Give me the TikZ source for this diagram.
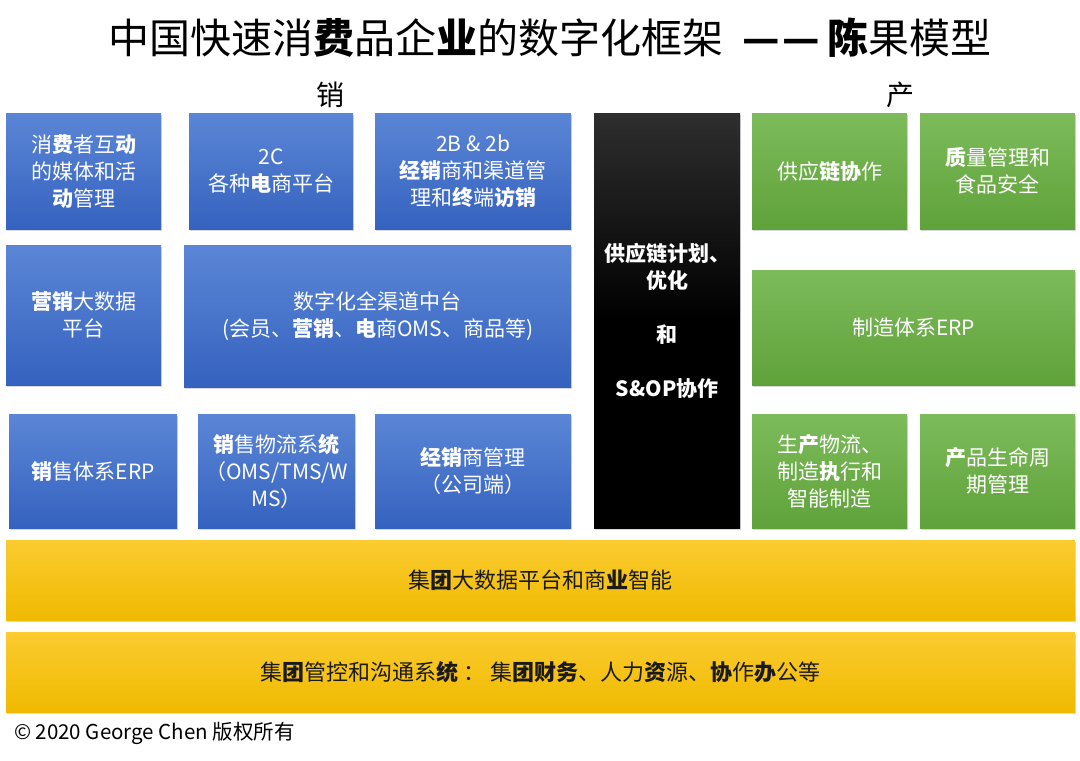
\documentclass[tikz,border=0pt]{standalone}
\usepackage{fontspec}
\setmainfont{Noto Sans CJK SC}
\usetikzlibrary{shadows}
\definecolor{bluetop}{HTML}{5B86D6}
\definecolor{bluebot}{HTML}{3562BF}
\definecolor{greentop}{HTML}{7DBB5B}
\definecolor{greenbot}{HTML}{5FA23A}
\definecolor{yeltop}{HTML}{FBCB30}
\definecolor{yelbot}{HTML}{F0BA00}
\definecolor{blacktop}{HTML}{2E2E2E}
\definecolor{txtdark}{HTML}{1A1A1A}
\tikzset{
  x=1pt, y=-1pt,
  card/.style={anchor=north west, inner sep=2pt, align=center, text=white,
    font=\fontsize{21pt}{27pt}\selectfont,
    drop shadow={opacity=0.3, shadow xshift=1pt, shadow yshift=-2pt}},
  bluebox/.style={card, top color=bluetop, bottom color=bluebot},
  greenbox/.style={card, top color=greentop, bottom color=greenbot},
  blackbox/.style={card, top color=blacktop, bottom color=black, middle color=black,
    font=\bfseries\fontsize{21pt}{27pt}\selectfont},
  yelbox/.style={card, text=txtdark, top color=yeltop, bottom color=yelbot,
    font=\fontsize{22pt}{27pt}\selectfont},
  heading/.style={inner sep=0pt, font=\fontsize{28pt}{30pt}\selectfont}
}
\begin{document}
\begin{tikzpicture}
\path[fill=white, use as bounding box] (0,0) rectangle (1080,761);

\node[inner sep=0pt, font=\fontsize{41pt}{44pt}\selectfont] (title) at (550,38)
  {中国快速消\textbf{费}品企\textbf{业}的数字化框架\ \ \textbf{—\hspace{3pt}—}\,\textbf{陈}果模型};
\node[heading] (xiao) at (330,95) {销};
\node[heading] (chan) at (900,95) {产};

% row 1
\node[bluebox, minimum width=155, minimum height=116] (a1) at (6,113)
  {消\textbf{费}者互\textbf{动}\\的媒体和活\\\textbf{动}管理};
\node[bluebox, minimum width=164, minimum height=116] (a2) at (189,113)
  {2C\\各种\textbf{电}商平台};
\node[bluebox, minimum width=196, minimum height=116] (a3) at (375,113)
  {2B \& 2b\\\textbf{经销}商和渠道管\\理和\textbf{终}端\textbf{访销}};
\node[greenbox, minimum width=155, minimum height=116] (g1) at (752,113)
  {供应\textbf{链协}作};
\node[greenbox, minimum width=155, minimum height=116] (g2) at (920,113)
  {\textbf{质}量管理和\\食品安全};

% black column
\node[blackbox, minimum width=146, minimum height=415] (sc) at (594,113)
  {供应链计划、\\优化\\[27pt]和\\[27pt]S\&OP协作};

% row 2
\node[bluebox, minimum width=155, minimum height=140] (b1) at (6,245)
  {\textbf{营销}大数据\\平台};
\node[bluebox, minimum width=387, minimum height=142] (b2) at (184,245)
  {数字化全渠道中台\\(会员、\textbf{营销}、\textbf{电}商OMS、商品等)};
\node[greenbox, minimum width=323, minimum height=115] (g3) at (752,270)
  {制造体系ERP};

% row 3
\node[bluebox, minimum width=168, minimum height=114] (c1) at (9,414)
  {\textbf{销}售体系ERP};
\node[bluebox, minimum width=157, minimum height=114] (c2) at (198,414)
  {\textbf{销}售物流系\textbf{统}\\（OMS/TMS/W\\MS）};
\node[bluebox, minimum width=196, minimum height=114] (c3) at (375,414)
  {\textbf{经销}商管理\\（公司端）};
\node[greenbox, minimum width=155, minimum height=114] (g4) at (752,414)
  {生\textbf{产}物流、\\制造\textbf{执}行和\\智能制造};
\node[greenbox, minimum width=155, minimum height=114] (g5) at (920,414)
  {\textbf{产}品生命周\\期管理};

% yellow bars
\node[yelbox, minimum width=1069, minimum height=80] (y1) at (6,540)
  {集\textbf{团}大数据平台和商\textbf{业}智能};
\node[yelbox, minimum width=1069, minimum height=80] (y2) at (6,632)
  {集\textbf{团}管控和沟通系\textbf{统}\ ：\ 集\textbf{团财务}、人力\textbf{资}源、\textbf{协}作\textbf{办}公等};

\node[anchor=west, inner sep=0pt, font=\fontsize{20.5pt}{23pt}\selectfont] (copy) at (14,733)
  {© 2020 George Chen 版权所有};
\end{tikzpicture}
\end{document}
